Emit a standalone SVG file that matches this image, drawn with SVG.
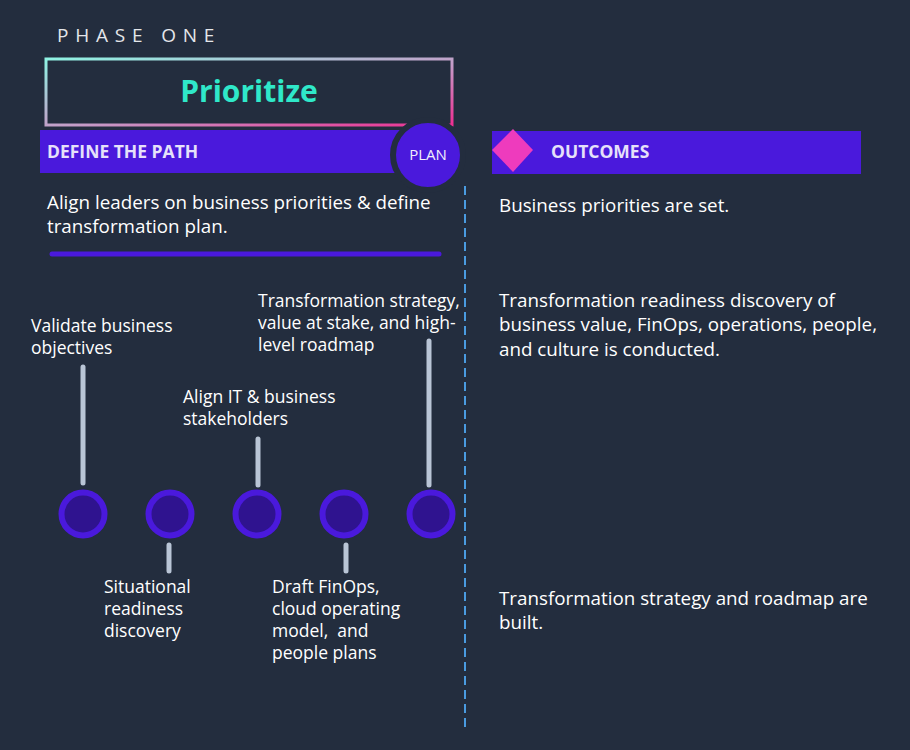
<svg xmlns="http://www.w3.org/2000/svg" width="910" height="750" viewBox="0 0 910 750">
<defs>
<linearGradient id="g" x1="0" y1="0" x2="1" y2="1">
<stop offset="0" stop-color="#8ff3e3"/>
<stop offset="0.55" stop-color="#c59ac7"/>
<stop offset="1" stop-color="#ee2f92"/>
</linearGradient>
<style>
text{font-family:"Open Sans","Noto Sans",sans-serif;fill:#ffffff}
.b{font-size:18.8px}
.s{font-size:17.5px}
.h{font-size:17.5px;font-weight:bold;fill:#e6e1fa}
.stem{stroke:#b9c5d6;stroke-width:5;stroke-linecap:round}
.dot{fill:#2f138f;stroke:#4a19dc;stroke-width:6}
</style>
</defs>
<rect width="910" height="750" fill="#232d3e"/>
<text x="57" y="42" style="font-size:19px;letter-spacing:6.8px;fill:#e4e6ea">PHASE ONE</text>
<g id="title">
<rect x="46" y="59" width="406" height="66" fill="none" stroke="url(#g)" stroke-width="3"/>
<text x="249" y="102" text-anchor="middle" style="font-size:30px;font-weight:bold;fill:#2fe8c9">Prioritize</text>
</g>
<g id="define">
<rect x="40" y="130" width="370" height="43" fill="#4a19dc"/>
<text x="47" y="158" class="h">DEFINE THE PATH</text>
</g>
<g id="plan">
<circle cx="428" cy="155" r="35" fill="#4a19dc" stroke="#232d3e" stroke-width="6"/>
<text x="428" y="160" text-anchor="middle" style="font-size:15px;fill:#f0eefc">PLAN</text>
</g>
<g id="outcomes">
<rect x="492" y="131" width="369" height="43" fill="#4a19dc"/>
<polygon points="513,129 533,150 513,172 492,150" fill="#ee3bbd"/>
<text x="551" y="158" class="h">OUTCOMES</text>
</g>
<g id="connectors">
<line x1="465" y1="186" x2="465" y2="730" stroke="#4a9be0" stroke-width="2" stroke-dasharray="9,5"/>
<line x1="52" y1="254" x2="439" y2="254" stroke="#4a19dc" stroke-width="5" stroke-linecap="round"/>
<line class="stem" x1="83" y1="367" x2="83" y2="483"/>
<line class="stem" x1="258" y1="439" x2="258" y2="485"/>
<line class="stem" x1="429" y1="341" x2="429" y2="485"/>
<line class="stem" x1="169" y1="545" x2="169" y2="571"/>
<line class="stem" x1="346" y1="545" x2="346" y2="571"/>
</g>
<g id="intro">
<text x="47" y="209" class="b">Align leaders on business priorities &amp; define</text>
<text x="47" y="233" class="b">transformation plan.</text>
</g>
<g id="m1"><circle class="dot" cx="83" cy="514" r="21.5"/>
<text x="31" y="332" class="s">Validate business</text><text x="31" y="354" class="s">objectives</text></g>
<g id="m2"><circle class="dot" cx="170" cy="514" r="21.5"/>
<text x="104" y="593" class="s">Situational</text><text x="104" y="615" class="s">readiness</text><text x="104" y="637" class="s">discovery</text></g>
<g id="m3"><circle class="dot" cx="257" cy="514" r="21.5"/>
<text x="183" y="403" class="s">Align IT &amp; business</text><text x="183" y="425" class="s">stakeholders</text></g>
<g id="m4"><circle class="dot" cx="344" cy="514" r="21.5"/>
<text x="272" y="593" class="s">Draft FinOps,</text><text x="272" y="615" class="s">cloud operating</text><text x="272" y="637" class="s" xml:space="preserve">model,  and</text><text x="272" y="659" class="s">people plans</text></g>
<g id="m5"><circle class="dot" cx="431" cy="514" r="21.5"/>
<text x="258" y="307" class="s">Transformation strategy,</text><text x="258" y="329" class="s">value at stake, and high-</text><text x="258" y="351" class="s">level roadmap</text></g>
<g id="o1"><text x="499" y="212" class="b">Business priorities are set.</text></g>
<g id="o2"><text x="499" y="307" class="b">Transformation readiness discovery of</text>
<text x="499" y="331" class="b">business value, FinOps, operations, people,</text>
<text x="499" y="356" class="b">and culture is conducted.</text></g>
<g id="o3"><text x="499" y="605" class="b">Transformation strategy and roadmap are</text>
<text x="499" y="629" class="b">built.</text></g>
</svg>
